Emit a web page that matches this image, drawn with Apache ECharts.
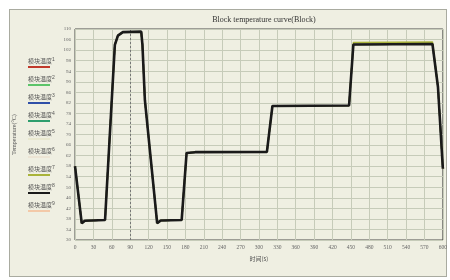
<!DOCTYPE html>
<html>
<head>
<meta charset="utf-8">
<style>
  html, body { margin: 0; padding: 0; background: #fff; }
  #wrap { position: absolute; left: 9px; top: 9px; width: 436px; height: 266px; border: 1px solid #a9aba0; background: #efefe2; }
  #chart { width: 450px; height: 280px; position: absolute; left: 0; top: 0; }
</style>
<script src="https://cdn.jsdelivr.net/npm/echarts@6/dist/echarts.min.js"></script>
</head>
<body>
<div id="wrap"></div>
<div id="chart"></div>
<script>
// x axis: time in seconds
var timeSec = [0, 11, 16, 49, 65, 70, 78, 108, 110, 114, 134, 140, 174, 182, 196, 313, 322, 447, 454, 583, 592, 600]
// block temperature (all channels overlap)
var blockTemp = [58, 36.3, 37.3, 37.6, 104, 107.5, 108.8, 109, 104, 83, 36.4, 37.4, 37.6, 63, 63.3, 63.4, 80.8, 81, 104.1, 104.3, 88, 57]
// channel 7 sits a little above on the last plateau
var blockTemp7 = [58, 36.3, 37.3, 37.6, 104, 107.5, 108.8, 109, 104, 83, 36.4, 37.4, 37.6, 63, 63.3, 63.4, 80.8, 81, 104.9, 105.1, 88, 57]
var seriesNames = ['模块温度1', '模块温度2', '模块温度3', '模块温度4', '模块温度5', '模块温度6', '模块温度7', '模块温度8', '模块温度9']
var seriesColors = ['#c0392b', '#5cc46a', '#2f4fa8', '#2e9e6e', '#e9e8cf', '#ece4d4', '#a9b33a', '#1a1a1a', '#f3c9a8']

var chart = echarts.init(document.getElementById('chart'))

function pairs(vals) {
  return timeSec.map(function(t, i) { return [t, vals[i]] })
}

var rich = {
  t: { fontSize: 6, color: '#555', fontFamily: 'Noto Sans CJK SC', lineHeight: 8 },
  s: { fontSize: 5, color: '#555', verticalAlign: 'top', lineHeight: 8 }
}
seriesColors.forEach(function(c, i) {
  rich['l' + i] = { width: 22, height: 2, backgroundColor: c, lineHeight: 4 }
})

var series = seriesNames.map(function(name, i) {
  var s = {
    name: name,
    type: 'line',
    showSymbol: false,
    symbol: 'none',
    smooth: false,
    animation: false,
    z: i === 7 ? 6 : (i === 6 ? 5 : 2),
    lineStyle: { width: i === 7 ? 2.6 : 1.5, color: seriesColors[i] },
    itemStyle: { color: seriesColors[i] },
    data: pairs(i === 6 ? blockTemp7 : blockTemp)
  }
  if (i === 0) {
    s.markLine = {
      silent: true,
      symbol: 'none',
      label: { show: false },
      lineStyle: { color: '#777', type: [2, 2], width: 1 },
      data: [{ xAxis: 90 }]
    }
  }
  return s
})

chart.setOption({
  backgroundColor: 'transparent',
  title: {
    text: 'Block temperature curve(Block)',
    left: 259,
    textAlign: 'center',
    top: 11,
    textStyle: { fontSize: 8, fontWeight: 'normal', color: '#333', fontFamily: 'Liberation Serif' }
  },
  legend: {
    orient: 'vertical',
    left: 23,
    top: 57,
    itemGap: 2,
    itemWidth: 0,
    itemHeight: 0,
    icon: 'rect',
    padding: 0,
    selectedMode: false,
    data: seriesNames,
    formatter: function(name) {
      var i = seriesNames.indexOf(name)
      return '{t|' + name.slice(0, 4) + '}{s|' + (i + 1) + '}\n{l' + i + '| }'
    },
    textStyle: { rich: rich }
  },
  grid: {
    left: 75,
    right: 7,
    top: 29,
    bottom: 40,
    show: true,
    backgroundColor: '#efefe2',
    borderColor: '#4a4a4a',
    borderWidth: 1
  },
  xAxis: {
    type: 'value',
    min: 0,
    max: 600,
    interval: 30,
    name: '时间(s)',
    nameLocation: 'middle',
    nameGap: 14,
    nameTextStyle: { fontSize: 6, color: '#555', fontFamily: 'Noto Sans CJK SC' },
    axisLine: { show: false },
    axisTick: { show: false },
    axisLabel: { fontSize: 5.5, color: '#666', margin: 5, fontFamily: 'Liberation Serif' },
    splitLine: { lineStyle: { color: '#c6cbb9', width: 1 } }
  },
  yAxis: {
    type: 'value',
    min: 30,
    max: 110,
    interval: 4,
    name: 'Temperature(°C)',
    nameLocation: 'middle',
    nameGap: 58,
    nameTextStyle: { fontSize: 6, color: '#555', fontFamily: 'Liberation Serif' },
    axisLine: { show: false },
    axisTick: { show: false },
    axisLabel: { fontSize: 5, color: '#666', margin: 4, fontFamily: 'Liberation Serif' },
    splitLine: { lineStyle: { color: '#c6cbb9', width: 1 } }
  },
  series: series
})
</script>
</body>
</html>
